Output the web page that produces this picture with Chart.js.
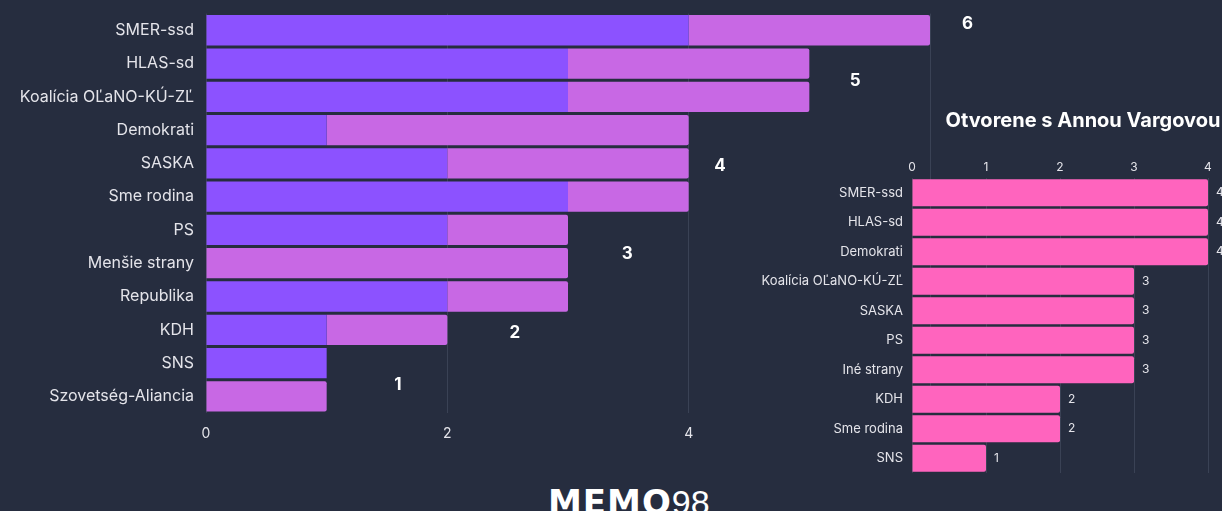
<!DOCTYPE html>
<html>
<head>
<meta charset="utf-8">
<script src="https://cdn.jsdelivr.net/npm/chart.js@4"></script>
<style>
  html, body { margin: 0; padding: 0; background: #262d3f; overflow: hidden; }
  body { width: 1222px; height: 511px; position: relative; font-family: Inter, sans-serif; }
  #left-box { position: absolute; left: 0; top: 0; width: 1000px; height: 450px; }
  #right-box { position: absolute; left: 740px; top: 100px; width: 686px; height: 390px; }
  #right-title { position: absolute; left: 933px; width: 300px; top: 108px; text-align: center; color: #fff; font: bold 20px Inter, sans-serif; white-space: nowrap; }
  #logo { position: absolute; left: 548px; top: 485px; color: #fff; font-size: 34px; line-height: 1; white-space: nowrap; font-family: "DejaVu Sans", sans-serif; }
  #logo b { font-weight: 900; letter-spacing: 1px; }
  #logo span { font-weight: 200; font-family: "Liberation Sans", sans-serif; }
</style>
</head>
<body>
<div id="left-box"><canvas id="left-chart"></canvas></div>
<div id="right-box"><canvas id="right-chart"></canvas></div>
<div id="right-title"></div>
<div id="logo"><b>MEMO</b><span>98</span></div>
<script>
// left chart data
const leftParties = ["SMER-ssd", "HLAS-sd", "Koalícia OĽaNO-KÚ-ZĽ", "Demokrati", "SASKA", "Sme rodina", "PS", "Menšie strany", "Republika", "KDH", "SNS", "Szovetség-Aliancia"];
const leftFirst = [4, 3, 3, 1, 2, 3, 2, 0, 2, 1, 1, 0];
const leftSecond = [2, 2, 2, 3, 2, 1, 1, 3, 1, 1, 0, 1];
const leftTickLabels = ["0", "2", "4"];
const leftTotalLabels = ["6", "5", "4", "3", "2", "1"];

// right chart data
const rightTitle = "Otvorene s Annou Vargovou";
const rightParties = ["SMER-ssd", "HLAS-sd", "Demokrati", "Koalícia OĽaNO-KÚ-ZĽ", "SASKA", "PS", "Iné strany", "KDH", "Sme rodina", "SNS"];
const rightValues = [4, 4, 4, 3, 3, 3, 3, 2, 2, 1];
const rightTickLabels = ["0", "1", "2", "3", "4"];

const textColor = "#e4e4ea";
const gridColor = "#3a4255";

document.getElementById("right-title").textContent = rightTitle;

// big bold numbers floating next to the bars (value offset, row)
const totalsPlugin = {
  id: "totals",
  afterDraw(chart) {
    const spots = [[6.31, -0.2], [5.38, 1.53], [4.26, 4.08], [3.49, 6.71], [2.56, 9.1], [1.59, 10.66]];
    const ctx = chart.ctx;
    ctx.save();
    ctx.fillStyle = "#ffffff";
    ctx.font = "bold 17px Inter";
    ctx.textAlign = "center";
    ctx.textBaseline = "middle";
    leftTotalLabels.forEach((t, i) => {
      const x = chart.scales.x.getPixelForValue(spots[i][0]);
      const y = chart.scales.y.getPixelForValue(spots[i][1]);
      ctx.fillText(t, x, y);
    });
    ctx.restore();
  }
};

const valuePlugin = {
  id: "values",
  afterDatasetsDraw(chart) {
    const ctx = chart.ctx;
    const meta = chart.getDatasetMeta(0);
    ctx.save();
    ctx.fillStyle = textColor;
    ctx.font = "12px Inter";
    ctx.textBaseline = "middle";
    meta.data.forEach((bar, i) => {
      ctx.fillText(String(rightValues[i]), bar.x + 8, bar.y);
    });
    ctx.restore();
  }
};

new Chart(document.getElementById("left-chart"), {
  type: "bar",
  data: {
    labels: leftParties,
    datasets: [
      { data: leftFirst, backgroundColor: "#8c52ff", borderWidth: 0, barPercentage: 0.91, categoryPercentage: 1 },
      { data: leftSecond, backgroundColor: "#c868e4", borderWidth: 0, borderRadius: 2, barPercentage: 0.91, categoryPercentage: 1 }
    ]
  },
  options: {
    indexAxis: "y",
    responsive: true,
    maintainAspectRatio: false,
    animation: false,
    layout: { padding: { top: 1, right: 70, left: 0, bottom: 0 } },
    plugins: { legend: { display: false }, tooltip: { enabled: false } },
    scales: {
      x: {
        stacked: true,
        min: 0,
        max: 6,
        grid: { color: gridColor, drawTicks: false },
        border: { display: false },
        afterFit: (s) => { s.height = 37; },
        ticks: {
          stepSize: 2,
          color: textColor,
          font: { family: "Inter", size: 14 },
          padding: 12,
          callback: (v) => leftTickLabels.includes(String(v)) ? String(v) : ""
        }
      },
      y: {
        stacked: true,
        grid: { display: false },
        border: { display: false },
        afterFit: (s) => { s.width = 206; },
        ticks: { color: textColor, font: { family: "Inter", size: 16 }, padding: 4 }
      }
    }
  },
  plugins: [totalsPlugin]
});

new Chart(document.getElementById("right-chart"), {
  type: "bar",
  data: {
    labels: rightParties,
    datasets: [
      { data: rightValues, backgroundColor: "#ff64be", borderWidth: 0, borderRadius: 2, barPercentage: 0.92, categoryPercentage: 1 }
    ]
  },
  options: {
    indexAxis: "y",
    responsive: true,
    maintainAspectRatio: false,
    animation: false,
    layout: { padding: { top: 53, right: 218, left: 0, bottom: 17 } },
    plugins: { legend: { display: false }, tooltip: { enabled: false } },
    scales: {
      x: {
        position: "top",
        min: 0,
        max: 4,
        grid: { color: gridColor, drawTicks: false },
        border: { display: false },
        afterFit: (s) => { s.height = 25; },
        ticks: {
          stepSize: 1,
          color: textColor,
          font: { family: "Inter", size: 12 },
          padding: 3,
          callback: (v) => rightTickLabels.includes(String(v)) ? String(v) : ""
        }
      },
      y: {
        grid: { display: false },
        border: { display: false },
        afterFit: (s) => { s.width = 172; },
        ticks: { color: textColor, font: { family: "Inter", size: 13 }, padding: 1 }
      }
    }
  },
  plugins: [valuePlugin]
});
</script>
</body>
</html>
